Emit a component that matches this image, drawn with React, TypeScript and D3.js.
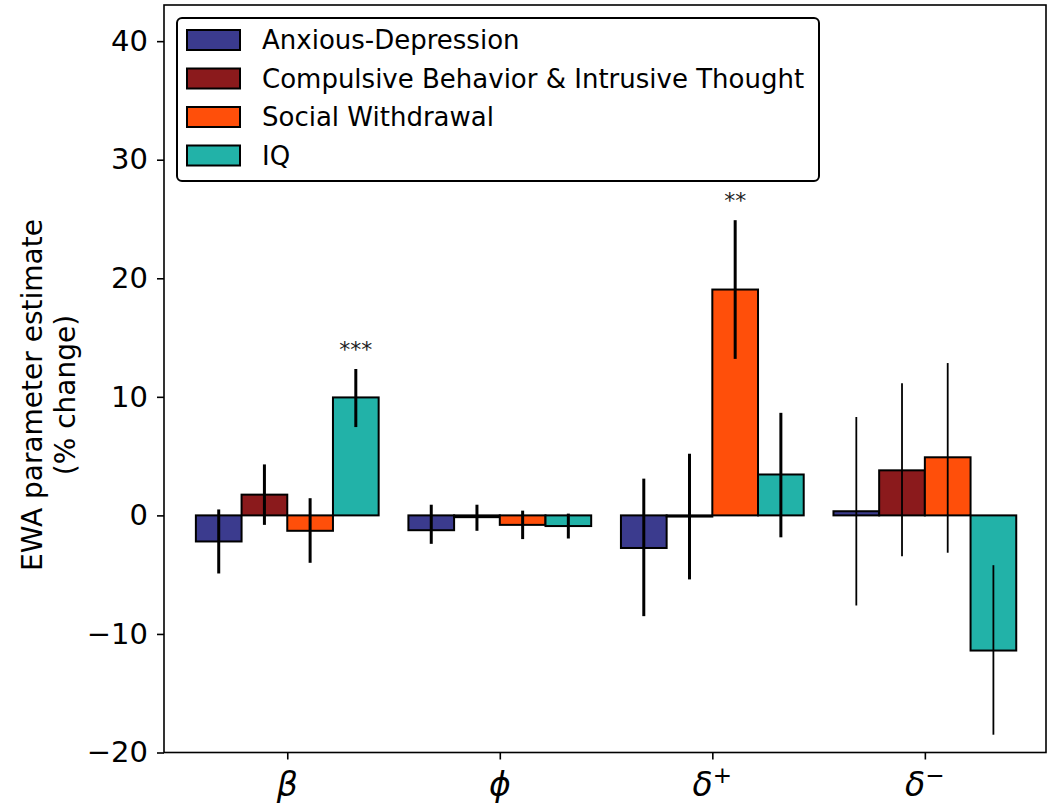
import React, { useEffect, useRef } from "react";
import * as d3 from "d3";

const categories = ["β", "ϕ", "δ+", "δ−"];
const seriesNames = [
  "Anxious-Depression",
  "Compulsive Behavior & Intrusive Thought",
  "Social Withdrawal",
  "IQ",
];
const seriesColors = ["#3b3b8e", "#8b1a1c", "#ff4f0a", "#22b2a8"];

const anxiousDep = [-2.2, -1.25, -2.75, 0.35];
const compulsive = [1.75, -0.15, -0.1, 3.8];
const socialWith = [-1.3, -0.8, 19.05, 4.9];
const iq = [9.95, -0.9, 3.45, -11.4];

const anxiousDepLo = [-4.9, -2.4, -8.5, -7.6];
const anxiousDepHi = [0.5, 0.9, 3.1, 8.3];
const compulsiveLo = [-0.8, -1.3, -5.4, -3.45];
const compulsiveHi = [4.3, 0.9, 5.2, 11.15];
const socialWithLo = [-4.0, -2.0, 13.2, -3.15];
const socialWithHi = [1.45, 0.4, 24.9, 12.85];
const iqLo = [7.45, -1.95, -1.85, -18.5];
const iqHi = [12.35, 0.15, 8.65, -4.2];

const yTicks = [-20, -10, 0, 10, 20, 30, 40];
const significance = [
  { cat: 0, series: 3, label: "***" },
  { cat: 2, series: 2, label: "**" },
];

export default function App() {
  const ref = useRef<SVGSVGElement | null>(null);

  useEffect(() => {
    document.body.style.margin = "0";
    const svg = d3.select(ref.current);
    svg.selectAll("*").remove();

    const x = d3.scaleLinear().domain([-0.58, 3.57]).range([164, 1046]);
    const y = d3.scaleLinear().domain([-20, 43.05]).range([752.5, 5]);
    const barW = 0.215;

    const vals = [anxiousDep, compulsive, socialWith, iq];
    const los = [anxiousDepLo, compulsiveLo, socialWithLo, iqLo];
    const his = [anxiousDepHi, compulsiveHi, socialWithHi, iqHi];
    const font = "DejaVu Sans, sans-serif";

    const g = svg.append("g");

    // bars
    vals.forEach((arr, s) => {
      arr.forEach((v, c) => {
        const cx = c + (s - 1.5) * barW;
        const x0 = x(cx - barW / 2);
        const x1 = x(cx + barW / 2);
        const yTop = y(Math.max(0, v));
        const yBot = y(Math.min(0, v));
        g.append("rect")
          .attr("x", x0)
          .attr("y", yTop)
          .attr("width", x1 - x0)
          .attr("height", Math.max(0.5, yBot - yTop))
          .attr("fill", seriesColors[s])
          .attr("stroke", "#000")
          .attr("stroke-width", 2);
      });
    });

    // error bars
    vals.forEach((arr, s) => {
      arr.forEach((_v, c) => {
        const cx = x(c + (s - 1.5) * barW);
        g.append("line")
          .attr("x1", cx)
          .attr("x2", cx)
          .attr("y1", y(los[s][c]))
          .attr("y2", y(his[s][c]))
          .attr("stroke", "#000")
          .attr("stroke-width", c === 3 ? 1.8 : 3);
      });
    });

    // significance
    significance.forEach((d) => {
      const cx = x(d.cat + (d.series - 1.5) * barW);
      g.append("text")
        .attr("x", cx)
        .attr("y", y(his[d.series][d.cat]) - 12)
        .attr("text-anchor", "middle")
        .attr("font-family", font)
        .attr("font-size", 22)
        .attr("fill", "#222")
        .text(d.label);
    });

    // spines
    g.append("rect")
      .attr("x", 164)
      .attr("y", 5)
      .attr("width", 1046 - 164)
      .attr("height", 752.5 - 5)
      .attr("fill", "none")
      .attr("stroke", "#000")
      .attr("stroke-width", 1.6);

    // y axis
    const ya = svg
      .append("g")
      .attr("transform", "translate(164,0)")
      .call(
        d3
          .axisLeft(y)
          .tickValues(yTicks)
          .tickSize(7)
          .tickPadding(9)
          .tickFormat((d) => {
            const n = d as number;
            return n < 0 ? "\u2212" + Math.abs(n) : String(n);
          })
      );
    ya.select(".domain").remove();
    ya.selectAll("line").attr("stroke", "#000").attr("stroke-width", 1.6);
    ya.selectAll("text")
      .attr("font-family", font)
      .attr("font-size", 29)
      .attr("fill", "#000");

    // x axis
    const xa = svg
      .append("g")
      .attr("transform", "translate(0,752.5)")
      .call(
        d3
          .axisBottom(x)
          .tickValues([0, 1, 2, 3])
          .tickSize(7)
          .tickFormat(() => "")
      );
    xa.select(".domain").remove();
    xa.selectAll("line").attr("stroke", "#000").attr("stroke-width", 1.6);

    categories.forEach((cat, i) => {
      const base = cat.charAt(0);
      const sup = cat.slice(1);
      const t = svg
        .append("text")
        .attr("x", x(i))
        .attr("y", 796)
        .attr("text-anchor", "middle")
        .attr("font-family", font)
        .attr("font-style", "italic")
        .attr("font-size", 33)
        .attr("fill", "#000");
      t.append("tspan").text(base);
      if (sup) {
        t.append("tspan")
          .attr("font-size", 23)
          .attr("font-style", "normal")
          .attr("dy", -13)
          .text(sup);
      }
    });

    // y label
    const yl = svg
      .append("text")
      .attr("transform", "rotate(-90)")
      .attr("text-anchor", "middle")
      .attr("font-family", font)
      .attr("font-size", 28)
      .attr("fill", "#000");
    yl.append("tspan").attr("x", -395).attr("y", 42).text("EWA parameter estimate");
    yl.append("tspan").attr("x", -395).attr("y", 75).text("(% change)");

    // legend
    const lg = svg.append("g");
    lg.append("rect")
      .attr("x", 177)
      .attr("y", 18)
      .attr("width", 642)
      .attr("height", 163)
      .attr("rx", 5)
      .attr("fill", "#fff")
      .attr("stroke", "#000")
      .attr("stroke-width", 2);
    seriesNames.forEach((name, i) => {
      const yy = 30 + i * 38.5;
      lg.append("rect")
        .attr("x", 187)
        .attr("y", yy)
        .attr("width", 53)
        .attr("height", 20)
        .attr("fill", seriesColors[i])
        .attr("stroke", "#000")
        .attr("stroke-width", 2);
      lg.append("text")
        .attr("x", 262)
        .attr("y", yy + 19)
        .attr("font-family", font)
        .attr("font-size", 26)
        .attr("fill", "#000")
        .text(name);
    });
  }, []);

  return (
    <svg
      ref={ref}
      width={1050}
      height={808}
      style={{ position: "absolute", left: 0, top: 0, background: "#fff" }}
    />
  );
}
